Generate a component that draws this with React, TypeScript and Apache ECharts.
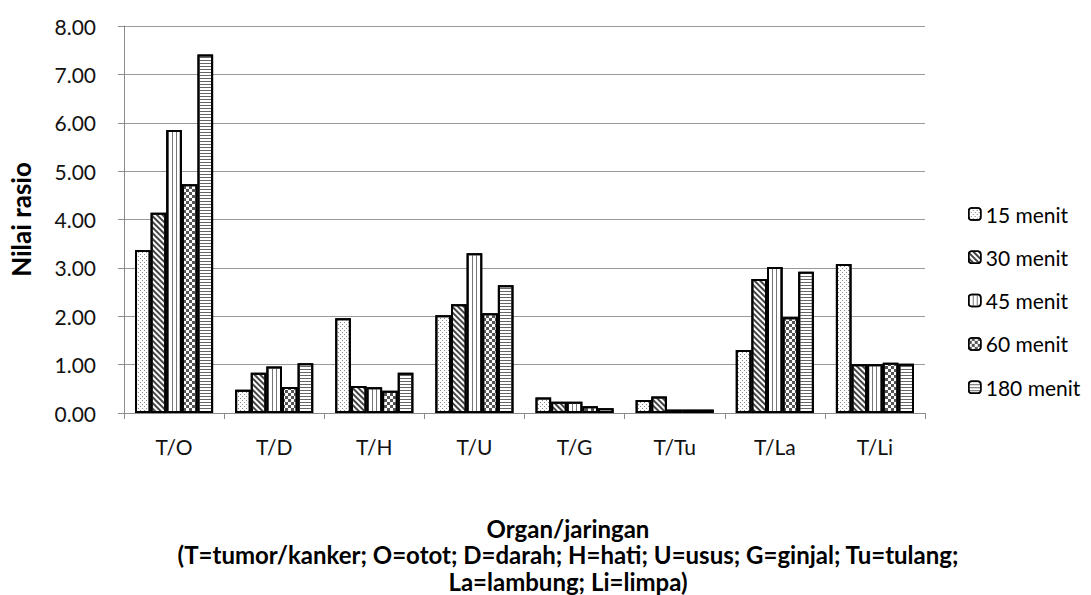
import React, { useEffect, useRef } from "react";
import * as echarts from "echarts";

const categories = ["T/O", "T/D", "T/H", "T/U", "T/G", "T/Tu", "T/La", "T/Li"];
const seriesNames = ["15 menit", "30 menit", "45 menit", "60 menit", "180 menit"];
const m15 = [3.37, 0.48, 1.96, 2.02, 0.32, 0.27, 1.3, 3.08];
const m30 = [4.14, 0.83, 0.56, 2.25, 0.23, 0.34, 2.77, 1.01];
const m45 = [5.85, 0.96, 0.53, 3.3, 0.23, 0.07, 3.02, 1.01];
const m60 = [4.73, 0.54, 0.46, 2.06, 0.14, 0.07, 1.98, 1.04];
const m180 = [7.41, 1.03, 0.83, 2.64, 0.1, 0.07, 2.92, 1.02];
const titleLines = [
  "Organ/jaringan",
  "(T=tumor/kanker; O=otot; D=darah; H=hati; U=usus; G=ginjal; Tu=tulang;",
  "La=lambung; Li=limpa)",
];

const FONT = "Lato, 'Liberation Sans', sans-serif";

const decals: any[] = [
  { symbol: "rect", symbolSize: 1, color: "#8a8a8a", dashArrayX: [[1, 3], [0, 2, 1, 1]], dashArrayY: [1, 1] },
  { symbol: "rect", symbolSize: 1, color: "#444", dashArrayX: [1, 0], dashArrayY: [1.5, 1.8], rotation: Math.PI / 4 },
  { symbol: "rect", symbolSize: 1, color: "#777", dashArrayX: [1, 3], dashArrayY: [1, 0] },
  { symbol: "rect", symbolSize: 1, color: "#555", dashArrayX: [[3, 3], [0, 3, 3, 0]], dashArrayY: [3, 0] },
  { symbol: "rect", symbolSize: 1, color: "#666", dashArrayX: [1, 0], dashArrayY: [1, 2] },
];

export default function App() {
  const ref = useRef<HTMLDivElement>(null);
  useEffect(() => {
    if (!ref.current) return;
    const chart = echarts.init(ref.current, undefined, { renderer: "svg" });
    const data = [m15, m30, m45, m60, m180];
    chart.setOption({
      animation: false,
      backgroundColor: "#fff",
      grid: { left: 112, right: 166, top: 26, bottom: 182, containLabel: false },
      legend: {
        orient: "vertical",
        left: 963,
        top: 198,
        itemWidth: 12,
        itemHeight: 12,
        itemGap: 21.3,
        data: seriesNames,
        textStyle: { fontFamily: FONT, fontSize: 21, color: "#000", lineHeight: 22 },
        itemStyle: { borderColor: "#000", borderWidth: 1.5 },
      },
      xAxis: {
        type: "category",
        data: categories,
        axisLine: { show: true, lineStyle: { color: "#8c8c8c", width: 1 } },
        axisTick: { show: true, length: 6, lineStyle: { color: "#8c8c8c" } },
        axisLabel: { fontFamily: FONT, fontSize: 21, color: "#111", margin: 23 },
      },
      yAxis: {
        type: "value",
        min: 0,
        max: 8,
        interval: 1,
        name: "Nilai rasio",
        nameLocation: "middle",
        nameRotate: 90,
        nameGap: 90,
        nameTextStyle: { fontFamily: FONT, fontSize: 26, fontWeight: "bold", color: "#000" },
        axisLine: { show: true, lineStyle: { color: "#8c8c8c", width: 1 } },
        axisTick: { show: true, length: 6, lineStyle: { color: "#8c8c8c" } },
        axisLabel: {
          fontFamily: FONT,
          fontSize: 21,
          color: "#111",
          margin: 28,
          formatter: (v: number) => v.toFixed(2),
        },
        splitLine: { show: true, lineStyle: { color: "#9a9a9a", width: 1.2 } },
      },
      series: seriesNames.map((name, i) => ({
        name,
        type: "bar",
        data: data[i],
        barGap: "0%",
        barCategoryGap: "22%",
        itemStyle: { color: "#fff", borderColor: "#000", borderWidth: 2, decal: decals[i] },
        emphasis: { disabled: true },
      })),
      graphic: titleLines.map((t, i) => ({
        type: "text",
        x: 568,
        y: 528 + i * 26.5,
        style: {
          text: t,
          fontFamily: FONT,
          fontSize: 24,
          fontWeight: "bold",
          fill: "#000",
          align: "center",
          verticalAlign: "middle",
        },
      })),
    });
    return () => chart.dispose();
  }, []);
  return (
    <div
      ref={ref}
      style={{ position: "absolute", left: 0, top: 0, width: 1091, height: 595 }}
    />
  );
}
